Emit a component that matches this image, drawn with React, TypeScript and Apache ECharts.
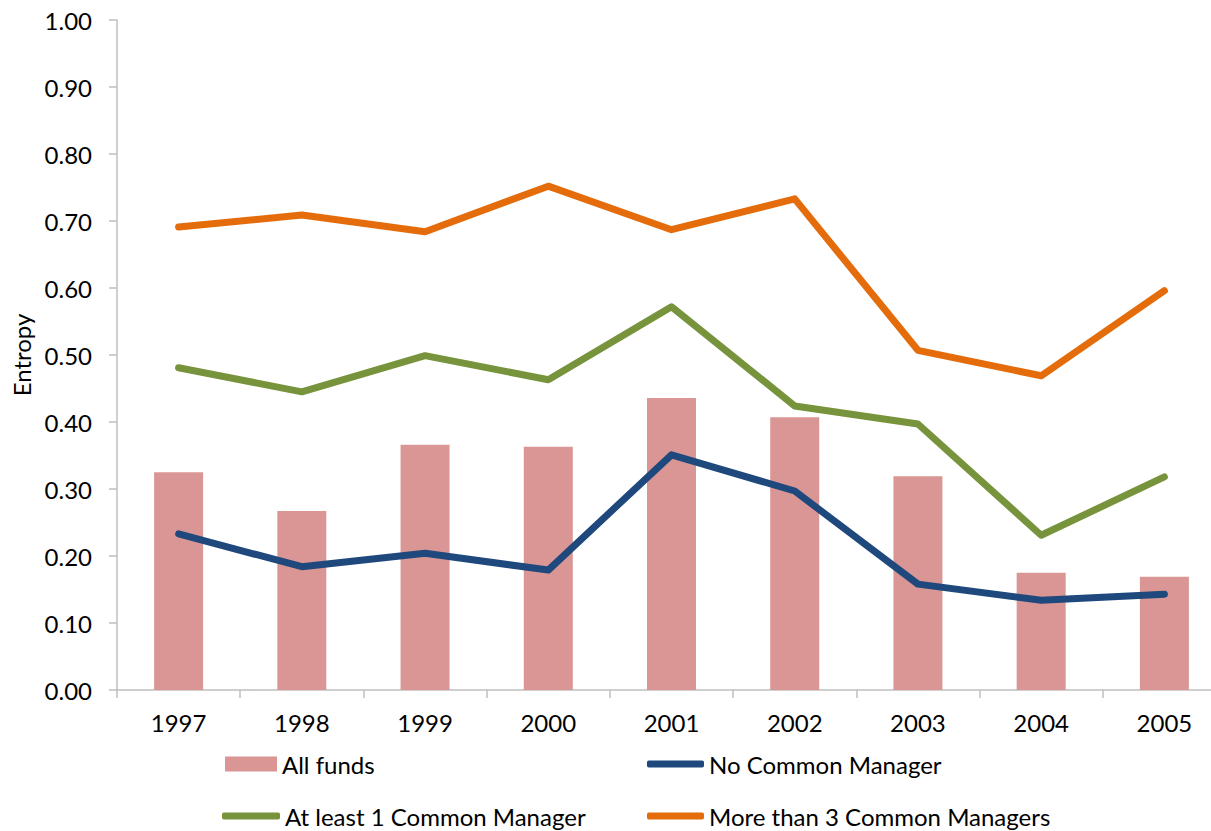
import React, { useEffect, useRef } from "react";
import * as echarts from "echarts";

const years = ["1997", "1998", "1999", "2000", "2001", "2002", "2003", "2004", "2005"];
const allFunds = [0.325, 0.267, 0.366, 0.363, 0.436, 0.407, 0.319, 0.175, 0.169];
const noCommon = [0.233, 0.184, 0.204, 0.179, 0.351, 0.297, 0.158, 0.134, 0.143];
const atLeast1 = [0.481, 0.445, 0.499, 0.463, 0.572, 0.424, 0.397, 0.231, 0.318];
const moreThan3 = [0.691, 0.709, 0.684, 0.752, 0.687, 0.733, 0.507, 0.469, 0.596];

const FONT = "Lato";
const AXIS = "#bfbfbf";

export default function App() {
  const ref = useRef<HTMLDivElement>(null);
  useEffect(() => {
    if (!ref.current) return;
    const chart = echarts.init(ref.current, null, { renderer: "svg" });
    const legendText = { fontFamily: FONT, fontSize: 24, color: "#000" };
    const mkLegend = (name: string, left: number, top: number, h: number, w: number, icon: string) => ({
      data: [name],
      left,
      top,
      padding: 0,
      itemWidth: w,
      itemHeight: h,
      icon,
      textStyle: legendText,
      selectedMode: false,
    });
    chart.setOption({
      animation: false,
      backgroundColor: "#fff",
      grid: { left: 117, width: 1109, top: 20, bottom: 141, containLabel: false, outerBoundsMode: "none" },
      legend: [
        mkLegend("All funds", 225, 752, 15, 52, "rect"),
        mkLegend("No Common Manager", 647, 752, 7, 57, "roundRect"),
        mkLegend("At least 1 Common Manager", 222, 804, 7, 58, "roundRect"),
        mkLegend("More than 3 Common Managers", 647, 804, 7, 57, "roundRect"),
      ],
      xAxis: {
        type: "category",
        data: years,
        axisLine: { lineStyle: { color: AXIS, width: 1.5 } },
        axisTick: { show: true, length: 8, lineStyle: { color: AXIS, width: 1.5 } },
        axisLabel: { fontFamily: FONT, fontSize: 24, color: "#000", margin: 20 },
        splitLine: { show: false },
      },
      yAxis: {
        type: "value",
        min: 0,
        max: 1,
        interval: 0.1,
        name: "Entropy",
        nameLocation: "middle",
        nameGap: 83,
        nameRotate: 90,
        nameTextStyle: { fontFamily: FONT, fontSize: 24, color: "#000" },
        axisLine: { show: true, lineStyle: { color: AXIS, width: 1.5 } },
        axisTick: { show: true, length: 8, lineStyle: { color: AXIS, width: 1.5 } },
        axisLabel: {
          fontFamily: FONT,
          fontSize: 24,
          color: "#000",
          margin: 25,
          formatter: (v: number) => v.toFixed(2),
        },
        splitLine: { show: false },
      },
      series: [
        {
          name: "All funds",
          type: "bar",
          data: allFunds,
          barWidth: 49,
          itemStyle: { color: "#D99694" },
        },
        {
          name: "No Common Manager",
          type: "line",
          data: noCommon,
          symbol: "none",
          lineStyle: { color: "#1F497D", width: 7, cap: "round", join: "round" },
          itemStyle: { color: "#1F497D" },
        },
        {
          name: "At least 1 Common Manager",
          type: "line",
          data: atLeast1,
          symbol: "none",
          lineStyle: { color: "#77933C", width: 7, cap: "round", join: "round" },
          itemStyle: { color: "#77933C" },
        },
        {
          name: "More than 3 Common Managers",
          type: "line",
          data: moreThan3,
          symbol: "none",
          lineStyle: { color: "#E46C0A", width: 7, cap: "round", join: "round" },
          itemStyle: { color: "#E46C0A" },
        },
      ],
    });
    return () => chart.dispose();
  }, []);
  return <div ref={ref} style={{ width: 1211, height: 831, position: "absolute", left: 0, top: 0 }} />;
}
